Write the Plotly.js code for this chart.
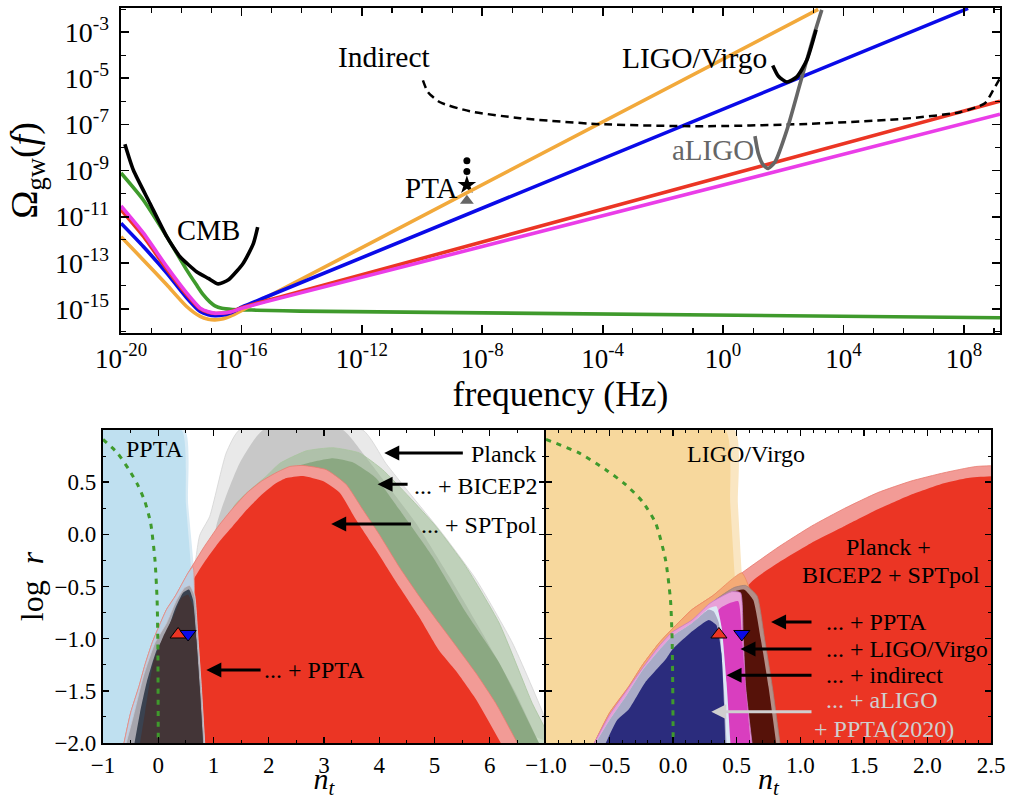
<![CDATA[<!DOCTYPE html>
<html><head><meta charset="utf-8">
<script src="https://cdn.plot.ly/plotly-3.0.1.min.js"></script>
<style>html,body{margin:0;padding:0;background:#fff}</style></head>
<body><div id="chart" style="width:1024px;height:800px"></div>
<script>
// ---- top panel: log10(frequency), log10(Omega_gw)
const lineKneeF=[-20,-19.26,-18.48,-17.82,-17.37,-17.1,-16.88,-16.6,-16.38,-15.94,-15.2];
const greenF=[-20,-19.26,-18.48,-17.82,-17.5,-17.27,-17.05,-16.88,-16.65,-16.3,-15.5,-14.05,9.2];
const greenO=[-9.11,-10.28,-11.87,-13.31,-13.95,-14.39,-14.7,-14.87,-14.98,-15.03,-15.06,-15.1,-15.39];
const orangeF=[...lineKneeF,3.16];
const orangeO=[-11.87,-12.88,-13.96,-14.9,-15.33,-15.45,-15.48,-15.43,-15.33,-15.04,-14.53,-2.01];
const blueF=[...lineKneeF,8.14];
const blueO=[-11.29,-12.3,-13.45,-14.52,-15.12,-15.26,-15.3,-15.27,-15.19,-14.9,-14.5,-1.97];
const redF=[...lineKneeF,9.2];
const redO=[-10.7,-11.85,-13.28,-14.38,-15.0,-15.15,-15.2,-15.18,-15.14,-14.93,-14.66,-5.99];
const magentaF=[...lineKneeF,9.2];
const magentaO=[-10.54,-11.71,-13.17,-14.31,-14.97,-15.13,-15.19,-15.18,-15.14,-14.96,-14.7,-6.56];
const cmbF=[-19.87,-19.59,-19.04,-18.48,-18.25,-18.04,-17.75,-17.49,-17.1,-16.77,-16.43,-15.94,-15.6,-15.46];
const cmbO=[-7.86,-8.98,-10.42,-11.87,-12.35,-12.74,-13.1,-13.39,-13.68,-13.92,-13.74,-13.02,-12.16,-11.46];
const indirectF=[-9.97,-9.8,-9.4,-8.41,-6.74,-4.09,-0.76,2.56,5.88,7.87,8.7,8.97,9.2];
const indirectO=[-5.09,-5.61,-6.04,-6.43,-6.73,-6.99,-7.08,-6.99,-6.77,-6.47,-6.08,-5.52,-5.0];
const ligoF=[1.65,1.84,2.12,2.45,2.78,3.09];
const ligoO=[-4.44,-4.91,-5.16,-4.94,-4.22,-2.89];
const aligoF=[1.06,1.17,1.34,1.5,1.73,2.12,2.56,3.0,3.28];
const aligoO=[-7.51,-8.26,-8.77,-8.91,-8.62,-7.25,-5.23,-3.21,-2.03];
const ptaCircF=[-8.51,-8.51], ptaCircO=[-8.58,-9.04];
const ptaStarF=[-8.51], ptaStarO=[-9.63];
const ptaTriF=[-8.51], ptaTriO=[-10.31];

// ---- bottom panels: n_t, log r contours
const consX=[-1,-0.74,-0.53,-0.373,-0.243,-0.138,-0.06,-0.021,-0.008,0,0];
const consY=[0.91,0.78,0.62,0.476,0.316,0.109,-0.243,-0.626,-1.01,-1.94,-2];
const redOuterX=[-0.62,-0.50,-0.35,-0.24,-0.11,-0.01,0.15,0.31,0.54,0.83,1.09,1.35,1.61,1.87,2.13,2.38,2.62,3.04,3.40,3.70,4.0,4.36,4.72,5.08,5.39,5.75,6.11,6.50];
const redOuterY=[-2,-1.71,-1.46,-1.25,-1.04,-0.91,-0.72,-0.59,-0.37,-0.12,0.08,0.25,0.40,0.51,0.59,0.65,0.66,0.62,0.48,0.24,0.0,-0.31,-0.59,-0.85,-1.07,-1.33,-1.62,-2];
const redInnerX=[0.3,0.59,0.83,1.09,1.35,1.61,1.87,2.13,2.32,2.62,2.98,3.28,3.58,3.94,4.36,4.72,5.08,5.39,5.75,6.20];
const redInnerY=[-2,-0.49,-0.27,-0.08,0.08,0.24,0.38,0.49,0.54,0.56,0.51,0.40,0.14,-0.15,-0.50,-0.79,-1.11,-1.31,-1.58,-2];
const greenOuterX=[1.0,1.35,1.96,2.20,2.68,3.16,3.64,4.06,4.54,5.02,5.57,6.17,6.77,7.01,7.1];
const greenOuterY=[-2,0.25,0.56,0.68,0.80,0.83,0.78,0.62,0.36,0.08,-0.31,-0.85,-1.62,-1.87,-2];
const greenInnerX=[2.0,2.3,2.68,3.16,3.52,3.94,4.36,4.96,5.57,6.17,6.89];
const greenInnerY=[-2,0.6,0.68,0.73,0.69,0.54,0.24,-0.21,-0.75,-1.23,-2];
const planckOuterX=[0.6,0.75,0.93,1.23,1.47,3.70,4.12,4.54,5.14,5.75,6.41,7.01,7.1];
const planckOuterY=[-0.6,-0.01,0.17,0.78,1.0,1.0,0.68,0.40,0.01,-0.43,-1.04,-1.78,-2];
const planckInnerX=[0.7,1.05,1.47,1.90,3.34,3.70,4.12,4.66,5.26,5.87,6.47,6.89];
const planckInnerY=[-2,0.08,0.68,1.0,1.0,0.78,0.49,0.11,-0.40,-0.95,-1.52,-2];
const pptaBandX=[-1,0.48,0.54,0.66,0.72,-1], pptaBandY=[1,1,0.30,-0.43,-2,-2];
const pptaBlueX=[-1,0.42,0.50,0.60,0.70,-1], pptaBlueY=[1,1,0.30,-0.37,-2,-2];
const sliverLX=[-0.62,-0.50,-0.35,-0.24,-0.11,-0.01,0.15,0.31,0.54,0.63,0.66,0.72,0.84];
const sliverLY=[-2,-1.71,-1.46,-1.25,-1.04,-0.91,-0.72,-0.59,-0.37,-0.31,-0.59,-1.01,-2];
const pptaOuterX=[-0.58,-0.45,-0.27,-0.06,0.15,0.33,0.48,0.57,0.66,0.72,0.78,0.84];
const pptaOuterY=[-2,-1.74,-1.36,-1.04,-0.85,-0.63,-0.51,-0.49,-0.59,-1.01,-1.46,-2];
const pptaMidX=[-0.43,-0.33,-0.21,-0.03,0.15,0.30,0.45,0.56,0.63,0.69,0.75,0.81];
const pptaMidY=[-2,-1.71,-1.42,-1.11,-0.95,-0.72,-0.56,-0.53,-0.63,-1.01,-1.46,-2];
const pptaInnerX=[-0.33,-0.24,-0.09,0.09,0.27,0.42,0.54,0.63,0.69,0.75,0.81];
const pptaInnerY=[-2,-1.71,-1.23,-0.98,-0.79,-0.61,-0.58,-0.69,-1.01,-1.46,-2];
const ligoBandX=[-1,0.483,0.509,0.54,0.567,0.7,-1], ligoBandY=[1,1,0.30,-0.37,-0.9,-2,-2];
const ligoFillX=[-1,0.41,0.449,0.483,0.501,0.6,-1], ligoFillY=[1,1,0.30,-0.37,-0.8,-2,-2];
const sliverRX=[...redOuterX.slice(0,9),0.62,0.7], sliverRY=[...redOuterY.slice(0,9),-0.6,-2];
const magOuterX=[-0.62,-0.50,-0.35,-0.24,-0.11,-0.01,0.15,0.28,0.33,0.46,0.53,0.55,0.57,0.62];
const magOuterY=[-2,-1.73,-1.47,-1.28,-1.07,-0.94,-0.82,-0.67,-0.63,-0.55,-0.56,-0.95,-1.46,-2];
const magInnerX=[0.3,0.36,0.51,0.54,0.57,0.61];
const magInnerY=[-2,-0.72,-0.64,-0.95,-1.46,-2];
const aliBandX=[-0.61,-0.50,-0.37,-0.24,-0.11,-0.01,0.15,0.28,0.34,0.38,0.42,0.45];
const aliBandY=[-2,-1.78,-1.55,-1.30,-1.11,-0.98,-0.85,-0.71,-0.69,-0.88,-1.42,-2];
const aliLavX=[-0.61,-0.50,-0.37,-0.24,-0.11,-0.01,0.15,0.28,0.32,0.36,0.38,0.40,0.42];
const aliLavY=[-2,-1.78,-1.55,-1.30,-1.11,-0.98,-0.85,-0.72,-0.74,-0.85,-1.14,-1.5,-2];
const aliNavyX=[-0.53,-0.44,-0.35,-0.22,-0.06,-0.01,0.15,0.28,0.34,0.38,0.40,0.41];
const aliNavyY=[-2,-1.78,-1.68,-1.42,-1.20,-1.11,-0.93,-0.82,-0.87,-1.14,-1.62,-2];
const markUpX=[0.36], markUpY=[-0.96], markDownX=[0.54], markDownY=[-0.955];

// ---- tick labels
const topXExp=[-20,-16,-12,-8,-4,0,4,8];
const topXMinor=[-19,-18,-17,-15,-14,-13,-11,-10,-9,-7,-6,-5,-3,-2,-1,1,2,3,5,6,7,9];
const topYExp=[-15,-13,-11,-9,-7,-5,-3];
const topYMinor=[-16,-14,-12,-10,-8,-6,-4,-2];
const leftXTicks=[-1,0,1,2,3,4,5,6], leftXLabels=['−1','0','1','2','3','4','5','6'];
const leftXMinor=[-0.5,0.5,1.5,2.5,3.5,4.5,5.5,6.5,7];
const rightXTicks=[-1,-0.5,0,0.5,1,1.5,2,2.5], rightXLabels=['−1.0','−0.5','0.0','0.5','1.0','1.5','2.0','2.5'];
const rightXMinor=[-0.9,-0.8,-0.7,-0.6,-0.4,-0.3,-0.2,-0.1,0.1,0.2,0.3,0.4,0.6,0.7,0.8,0.9,1.1,1.2,1.3,1.4,1.6,1.7,1.8,1.9,2.1,2.2,2.3,2.4];
const rTicks=[-2,-1.5,-1,-0.5,0,0.5], rLabels=['−2.0','−1.5','−1.0','−0.5','0.0','0.5'];
const rMinor=[-1.75,-1.25,-0.75,-0.25,0.25,0.75];

const FONT='"Liberation Serif","Times New Roman",serif';
const pow=a=>a.map(e=>Math.pow(10,e));
const traces=[];
function curve(xs,ys,color,width,dash,xa,ya){traces.push({type:'scatter',mode:'lines',x:xa==='x'?pow(xs):xs,y:xa==='x'?pow(ys):ys,
  xaxis:xa,yaxis:ya,line:{color,width,dash:dash||'solid',shape:'spline',smoothing:0.6},hoverinfo:'skip'});}
function area(xs,ys,color,xa,ya,edge,ew){traces.push({type:'scatter',mode:'lines',x:xs,y:ys,xaxis:xa,yaxis:ya,fill:'toself',fillcolor:color,
  line:{color:edge||'rgba(0,0,0,0)',width:edge?(ew||0.8):0,shape:'spline',smoothing:0.5},hoverinfo:'skip'});}
function mark(xs,ys,sym,size,color,lw,xa,ya,lc){traces.push({type:'scatter',mode:'markers',x:xa==='x'?pow(xs):xs,y:xa==='x'?pow(ys):ys,xaxis:xa,yaxis:ya,
  marker:{symbol:sym,size,color,line:{color:lc||'#000',width:lw}},hoverinfo:'skip'});}

// top panel
mark(ptaCircF,ptaCircO,'circle',7,'#000',0,'x','y');
mark(ptaTriF,ptaTriO,'triangle-up',12,'#666',0,'x','y');
mark(ptaStarF,ptaStarO,'star',14,'#000',0,'x','y');
curve(greenF,greenO,'#3f9a2c',3.6,null,'x','y');
curve(orangeF,orangeO,'#f2a93b',3.6,null,'x','y');
curve(blueF,blueO,'#0a0ae8',3.6,null,'x','y');
curve(redF,redO,'#eb3524',3.6,null,'x','y');
curve(magentaF,magentaO,'#ea3de8',3.6,null,'x','y');
curve(cmbF,cmbO,'#000',3.6,null,'x','y');
curve(indirectF,indirectO,'#000',2.5,'8px,5px','x','y');
curve(aligoF,aligoO,'#666',3.6,null,'x','y');
curve(ligoF,ligoO,'#000',3.6,null,'x','y');

function redContours(xa,ya){
  area(redOuterX,redOuterY,'#f29b96',xa,ya,'#e87b70');
  area(redInnerX,redInnerY,'#eb3524',xa,ya);
}
// bottom left
area(pptaBandX,pptaBandY,'#d9ebf5','x2','y2');
area(pptaBlueX,pptaBlueY,'#bfe0f0','x2','y2');
area(planckOuterX,planckOuterY,'#e9e9e9','x2','y2','#d4d4d4');
area(planckInnerX,planckInnerY,'#c8c8c8','x2','y2');
area(greenOuterX,greenOuterY,'rgba(150,185,140,0.5)','x2','y2','#a9c4a0');
area(greenInnerX,greenInnerY,'rgba(135,165,125,0.9)','x2','y2');
redContours('x2','y2');
area(sliverLX,sliverLY,'#bccfe3','x2','y2','#e98a80');
area(pptaOuterX,pptaOuterY,'#a6a5ad','x2','y2','#c9c9d4');
area(pptaMidX,pptaMidY,'#3a4250','x2','y2');
area(pptaInnerX,pptaInnerY,'#433537','x2','y2');
curve(consX,consY,'#3f9a2c',3,'5px,6px','x2','y2');
mark(markUpX,markUpY,'triangle-up',14,'#eb3524',1,'x2','y2');
mark(markDownX,markDownY,'triangle-down',14,'#0a0ae8',1,'x2','y2');
// bottom right
area(ligoBandX,ligoBandY,'#fae6c2','x3','y3');
area(ligoFillX,ligoFillY,'#f7d89d','x3','y3');
redContours('x3','y3');
area(sliverRX,sliverRY,'#f4aa76','x3','y3','#ee8a60');
area(pptaOuterX,pptaOuterY,'#b38f88','x3','y3','#a08078');
area(pptaMidX,pptaMidY,'#561209','x3','y3');
area(magOuterX,magOuterY,'#e8a0d8','x3','y3','#c878c8');
area(magInnerX,magInnerY,'#d93ebf','x3','y3');
area(aliBandX,aliBandY,'#dce8f5','x3','y3');
area(aliLavX,aliLavY,'#a9abc7','x3','y3');
area(aliNavyX,aliNavyY,'#2b2c7d','x3','y3');
curve(consX,consY,'#3f9a2c',3,'5px,6px','x3','y3');
mark(markUpX,markUpY,'triangle-up',14,'#eb3524',1,'x3','y3');
mark(markDownX,markDownY,'triangle-down',14,'#0a0ae8',1,'x3','y3');

function label(text,x,y,xr,yr,size,color,anchor){return {text,x,y,xref:xr,yref:yr,showarrow:false,xanchor:anchor||'center',yanchor:'middle',font:{family:FONT,size,color:color||'#000'}};}
function arrow(hx,tx,y,xr,yr,color){return {text:'',x:hx,y,ax:tx,ay:y,xref:xr,yref:yr,axref:xr,ayref:yr,showarrow:true,arrowhead:2,arrowsize:1,arrowwidth:3,arrowcolor:color||'#000',standoff:0,startstandoff:0};}

const annotations=[
 label('CMB',-17.08,-11.62,'x','y',28.5),
 label('Indirect',-11.26,-4.09,'x','y',29.5),
 label('LIGO/Virgo',-0.96,-4.13,'x','y',29.5),
 label('aLIGO',-0.35,-8.12,'x','y',29,'#666'),
 label('PTA',-9.7,-9.76,'x','y',29),
 label('PPTA',-0.07,0.82,'x2','y2',24),
 label('Planck',6.24,0.77,'x2','y2',24),
 label('... + BICEP2',5.75,0.46,'x2','y2',24),
 label('... + SPTpol',5.81,0.09,'x2','y2',24),
 label('... + PPTA',2.83,-1.30,'x2','y2',24),
 arrow(4.09,5.54,0.78,'x2','y2'),
 arrow(3.97,4.54,0.48,'x2','y2'),
 arrow(3.13,4.60,0.10,'x2','y2'),
 arrow(0.87,1.88,-1.30,'x2','y2'),
 label('LIGO/Virgo',0.57,0.77,'x3','y3',24),
 label('Planck +',1.69,-0.12,'x3','y3',24),
 label('BICEP2 + SPTpol',1.71,-0.39,'x3','y3',24),
 label('... + PPTA',1.19,-0.84,'x3','y3',24,null,'left'),
 label('... + LIGO/Virgo',1.19,-1.10,'x3','y3',24,null,'left'),
 label('... + indirect',1.19,-1.35,'x3','y3',24,null,'left'),
 label('... + aLIGO',1.19,-1.59,'x3','y3',24,'#cfcfcf','left'),
 label('+ PPTA(2020)',1.09,-1.87,'x3','y3',24,'#cfcfcf','left'),
 arrow(0.77,1.10,-0.84,'x3','y3'),
 arrow(0.53,1.10,-1.10,'x3','y3'),
 arrow(0.42,1.10,-1.35,'x3','y3'),
 arrow(0.30,1.10,-1.70,'x3','y3','#cfcfcf')
];

function ax(o){return Object.assign({showgrid:false,zeroline:false,showline:true,linecolor:'#000',ticks:'inside',mirror:'allticks',tickcolor:'#000',fixedrange:true,tickmode:'array'},o);}
const W=1024,H=800;
const minorOf=(vals,len,w)=>({tickmode:'array',tickvals:vals,ticks:'inside',ticklen:len,tickwidth:w,tickcolor:'#000',showgrid:false});
const layout={width:W,height:H,margin:{l:0,r:0,t:0,b:0},paper_bgcolor:'#fff',plot_bgcolor:'#fff',showlegend:false,font:{family:FONT,color:'#000'},annotations,
 xaxis:ax({type:'log',domain:[121/W,1000/W],anchor:'y',range:[-20,9.2],linewidth:2.4,ticklen:8,tickwidth:1.8,tickvals:pow(topXExp),ticktext:topXExp.map(e=>'10<sup>'+e+'</sup>'),tickfont:{size:27,family:FONT},minor:minorOf(pow(topXMinor),5,1.2),
   title:{text:'frequency (Hz)',font:{size:35.5,family:FONT},standoff:1}}),
 yaxis:ax({type:'log',domain:[1-333/H,1-8/H],anchor:'x',range:[-16.05,-1.95],linewidth:2.4,ticklen:8,tickwidth:1.8,tickvals:pow(topYExp),ticktext:topYExp.map(e=>'10<sup>'+e+'</sup>'),tickfont:{size:28,family:FONT},ticklabelstandoff:4,minor:minorOf(pow(topYMinor),5,1.2),
   title:{text:'Ω<sub>gw</sub>(<i>f</i>)',font:{size:38,family:FONT},standoff:6}}),
 xaxis2:ax({domain:[103/W,545/W],anchor:'y2',range:[-1,7],linewidth:2.2,ticklen:6,tickwidth:1.4,tickvals:leftXTicks,ticktext:leftXLabels,tickfont:{size:23,family:FONT},minor:minorOf(leftXMinor,3,1),
   title:{text:'<i>n<sub>t</sub></i>',font:{size:30,family:FONT},standoff:4}}),
 yaxis2:ax({domain:[1-743/H,1-430/H],anchor:'x2',range:[-2,1],linewidth:2.2,ticklen:6,tickwidth:1.4,tickvals:rTicks,ticktext:rLabels,tickfont:{size:23,family:FONT},minor:minorOf(rMinor,3,1),
   title:{text:'log&nbsp;&nbsp;<i>r</i>',font:{size:32,family:FONT},standoff:1}}),
 xaxis3:ax({domain:[546/W,991/W],anchor:'y3',range:[-1,2.5],linewidth:2.2,ticklen:6,tickwidth:1.4,tickvals:rightXTicks,ticktext:rightXLabels,tickfont:{size:23,family:FONT},minor:minorOf(rightXMinor,3,1),
   title:{text:'<i>n<sub>t</sub></i>',font:{size:30,family:FONT},standoff:4}}),
 yaxis3:ax({domain:[1-743/H,1-430/H],anchor:'x3',range:[-2,1],linewidth:2.2,ticklen:6,tickwidth:1.4,tickvals:rTicks,ticktext:rLabels,showticklabels:false,minor:minorOf(rMinor,3,1)})
};
Plotly.newPlot('chart',traces,layout,{displayModeBar:false,staticPlot:true});
</script></body></html>]]>
